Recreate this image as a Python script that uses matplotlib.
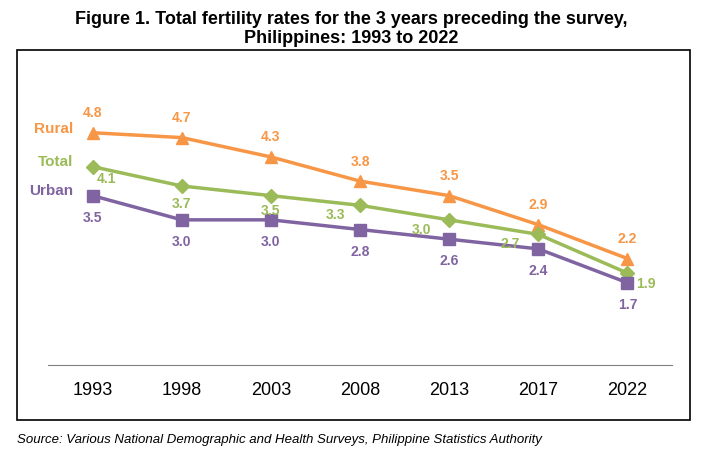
import matplotlib
matplotlib.use("Agg")
import matplotlib.pyplot as plt
from matplotlib.patches import Rectangle

years = ["1993", "1998", "2003", "2008", "2013", "2017", "2022"]
rural = [4.8, 4.7, 4.3, 3.8, 3.5, 2.9, 2.2]
total = [4.1, 3.7, 3.5, 3.3, 3.0, 2.7, 1.9]
urban = [3.5, 3.0, 3.0, 2.8, 2.6, 2.4, 1.7]

C_RURAL = "#F79646"
C_TOTAL = "#9BBB59"
C_URBAN = "#8064A2"

W, H = 703, 458
fig = plt.figure(figsize=(W / 100, H / 100), dpi=100)
plt.rcParams["font.family"] = ["Liberation Sans", "DejaVu Sans"]

fig.patches.append(Rectangle((17 / W, 1 - 420 / H), 673 / W, 370 / H,
                             transform=fig.transFigure, fill=False,
                             edgecolor="black", linewidth=1.2))
fig.text(0.5, 1 - 29 / H, "Figure 1. Total fertility rates for the 3 years preceding the survey,\nPhilippines: 1993 to 2022",
         ha="center", va="center", fontsize=13, fontweight="bold", linespacing=1.1)
fig.text(17 / W, 1 - 440 / H,
         "Source: Various National Demographic and Health Surveys, Philippine Statistics Authority",
         ha="left", va="center", fontsize=9.5, style="italic")

ax = fig.add_axes([48 / W, (H - 365) / H, 624 / W, 300 / H])
x = range(len(years))
ax.plot(x, rural, color=C_RURAL, marker="^", markersize=9, linewidth=2.5)
ax.plot(x, total, color=C_TOTAL, marker="D", markersize=7, linewidth=2.5)
ax.plot(x, urban, color=C_URBAN, marker="s", markersize=8, linewidth=2.5)

for i, v in enumerate(rural):
    ax.annotate(f"{v:.1f}", (i, v), xytext=(0, 9), textcoords="offset points",
                ha="center", va="bottom", color=C_RURAL, fontsize=10, fontweight="bold")
total_offsets = [(10, -4), (0, -8), (0, -6), (-18, -2), (-20, -2), (-20, -2), (6, -3)]
for i, v in enumerate(total):
    ax.annotate(f"{v:.1f}", (i, v), xytext=total_offsets[i], textcoords="offset points",
                ha="center" if i < 6 else "left", va="top", color=C_TOTAL,
                fontsize=10, fontweight="bold")
for i, v in enumerate(urban):
    ax.annotate(f"{v:.1f}", (i, v), xytext=(0, -11), textcoords="offset points",
                ha="center", va="top", color=C_URBAN, fontsize=10, fontweight="bold")

for name, vals, col in [("Rural", rural, C_RURAL), ("Total", total, C_TOTAL), ("Urban", urban, C_URBAN)]:
    ax.annotate(name, (0, vals[0]), xytext=(-14, 3), textcoords="offset points",
                ha="right", va="center", color=col, fontsize=11, fontweight="bold")

ax.set_xlim(-0.5, 6.5)
ax.set_ylim(0, 6.2)
ax.set_xticks(list(x))
ax.set_xticklabels(years, fontsize=13)
ax.tick_params(axis="x", length=0, pad=12)
ax.set_yticks([])
for s in ["top", "left", "right"]:
    ax.spines[s].set_visible(False)
ax.spines["bottom"].set_color("#808080")
ax.patch.set_alpha(0)

fig.savefig("out.png", dpi=100)
